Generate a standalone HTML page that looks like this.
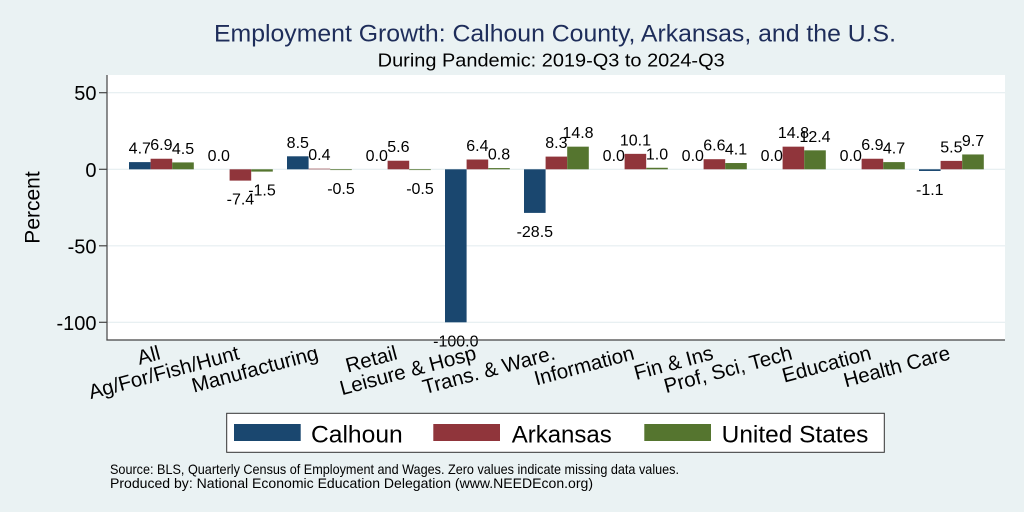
<!DOCTYPE html>
<html>
<head>
<meta charset="utf-8">
<style>
  html, body { margin: 0; padding: 0; background: #eaf2f3; }
  svg { display: block; }
  text { font-family: "Liberation Sans", Arial, sans-serif; }
</style>
</head>
<body>
<svg width="1024" height="512" viewBox="0 0 1024 512" xmlns="http://www.w3.org/2000/svg">
  <rect x="0" y="0" width="1024" height="512" fill="#eaf2f3"/>
  <!-- plot region -->
  <rect x="107" y="75" width="898" height="265" fill="#ffffff"/>
  <!-- gridlines -->
  <g stroke="#e5eef0" stroke-width="1.2">
    <line x1="107" y1="92.7" x2="1005" y2="92.7"/>
    <line x1="107" y1="169.3" x2="1005" y2="169.3"/>
    <line x1="107" y1="245.8" x2="1005" y2="245.8"/>
    <line x1="107" y1="322.3" x2="1005" y2="322.3"/>
  </g>

  <!-- bars -->
  <g>
    <!-- All -->
    <rect x="129" y="162.11" width="21.6" height="7.19" fill="#1a476f"/>
    <rect x="150.6" y="158.74" width="21.6" height="10.56" fill="#90353b"/>
    <rect x="172.2" y="162.41" width="21.6" height="6.89" fill="#55752f"/>
    <!-- Ag -->
    <rect x="229.6" y="169.3" width="21.6" height="11.32" fill="#90353b"/>
    <rect x="251.2" y="169.3" width="21.6" height="2.3" fill="#55752f"/>
    <!-- Manufacturing -->
    <rect x="287" y="156.3" width="21.6" height="13.0" fill="#1a476f"/>
    <rect x="308.6" y="168.69" width="21.6" height="0.61" fill="#90353b"/>
    <rect x="330.2" y="169.3" width="21.6" height="0.77" fill="#55752f"/>
    <!-- Retail -->
    <rect x="387.6" y="160.73" width="21.6" height="8.57" fill="#90353b"/>
    <rect x="409.2" y="169.3" width="21.6" height="0.77" fill="#55752f"/>
    <!-- Leisure -->
    <rect x="445" y="169.3" width="21.6" height="153" fill="#1a476f"/>
    <rect x="466.6" y="159.51" width="21.6" height="9.79" fill="#90353b"/>
    <rect x="488.2" y="168.08" width="21.6" height="1.22" fill="#55752f"/>
    <!-- Trans -->
    <rect x="524" y="169.3" width="21.6" height="43.6" fill="#1a476f"/>
    <rect x="545.6" y="156.6" width="21.6" height="12.7" fill="#90353b"/>
    <rect x="567.2" y="146.66" width="21.6" height="22.64" fill="#55752f"/>
    <!-- Information -->
    <rect x="624.6" y="153.85" width="21.6" height="15.45" fill="#90353b"/>
    <rect x="646.2" y="167.77" width="21.6" height="1.53" fill="#55752f"/>
    <!-- Fin -->
    <rect x="703.6" y="159.2" width="21.6" height="10.1" fill="#90353b"/>
    <rect x="725.2" y="163.03" width="21.6" height="6.27" fill="#55752f"/>
    <!-- Prof -->
    <rect x="782.6" y="146.66" width="21.6" height="22.64" fill="#90353b"/>
    <rect x="804.2" y="150.33" width="21.6" height="18.97" fill="#55752f"/>
    <!-- Education -->
    <rect x="861.6" y="158.74" width="21.6" height="10.56" fill="#90353b"/>
    <rect x="883.2" y="162.11" width="21.6" height="7.19" fill="#55752f"/>
    <!-- Health -->
    <rect x="919" y="169.3" width="21.6" height="1.68" fill="#1a476f"/>
    <rect x="940.6" y="160.88" width="21.6" height="8.42" fill="#90353b"/>
    <rect x="962.2" y="154.46" width="21.6" height="14.84" fill="#55752f"/>
  </g>

  <!-- bar labels -->
  <g font-size="16" fill="#000" text-anchor="middle">
    <text x="139.8" y="153.6">4.7</text>
    <text x="161.4" y="150.2">6.9</text>
    <text x="183" y="153.9">4.5</text>

    <text x="218.8" y="160.8">0.0</text>
    <text x="240.4" y="204.6">-7.4</text>
    <text x="262" y="195.6">-1.5</text>

    <text x="297.8" y="147.8">8.5</text>
    <text x="319.4" y="160.2">0.4</text>
    <text x="341" y="194.1">-0.5</text>

    <text x="376.8" y="160.8">0.0</text>
    <text x="398.4" y="152.2">5.6</text>
    <text x="420" y="194.1">-0.5</text>

    <text x="455.8" y="346.3">-100.0</text>
    <text x="477.4" y="151.0">6.4</text>
    <text x="499" y="159.6">0.8</text>

    <text x="534.8" y="236.9">-28.5</text>
    <text x="556.4" y="148.1">8.3</text>
    <text x="578" y="138.2">14.8</text>

    <text x="613.8" y="160.8">0.0</text>
    <text x="635.4" y="145.3">10.1</text>
    <text x="657" y="159.3">1.0</text>

    <text x="692.8" y="160.8">0.0</text>
    <text x="714.4" y="150.7">6.6</text>
    <text x="736" y="154.5">4.1</text>

    <text x="771.8" y="160.8">0.0</text>
    <text x="793.4" y="138.2">14.8</text>
    <text x="815" y="141.8">12.4</text>

    <text x="850.8" y="160.8">0.0</text>
    <text x="872.4" y="150.2">6.9</text>
    <text x="894" y="153.6">4.7</text>

    <text x="929.8" y="195.0">-1.1</text>
    <text x="951.4" y="152.4">5.5</text>
    <text x="973" y="146.0">9.7</text>
  </g>

  <!-- axes -->
  <g stroke="#444" stroke-width="1.2" fill="none">
    <line x1="107" y1="75" x2="107" y2="340.5"/>
    <line x1="106.4" y1="340" x2="1005" y2="340"/>
    <line x1="99" y1="92.7" x2="107" y2="92.7"/>
    <line x1="99" y1="169.3" x2="107" y2="169.3"/>
    <line x1="99" y1="245.8" x2="107" y2="245.8"/>
    <line x1="99" y1="322.3" x2="107" y2="322.3"/>
  </g>

  <!-- y tick labels -->
  <g font-size="20" fill="#000" text-anchor="end">
    <text x="96.5" y="100.2">50</text>
    <text x="96.5" y="176.8">0</text>
    <text x="96.5" y="253.3">-50</text>
    <text x="96.5" y="329.8">-100</text>
  </g>

  <!-- y axis title -->
  <text x="39.5" y="207.5" font-size="21" text-anchor="middle" transform="rotate(-90 39.5 207.5)">Percent</text>

  <!-- x labels -->
  <g font-size="20.5" fill="#000" text-anchor="end">
    <text x="161.4" y="359" transform="rotate(-15 161.4 359)">All</text>
    <text x="240.4" y="359" transform="rotate(-15 240.4 359)">Ag/For/Fish/Hunt</text>
    <text x="319.4" y="359" transform="rotate(-15 319.4 359)">Manufacturing</text>
    <text x="398.4" y="359" transform="rotate(-15 398.4 359)">Retail</text>
    <text x="477.4" y="359" transform="rotate(-15 477.4 359)">Leisure &amp; Hosp</text>
    <text x="556.4" y="359" transform="rotate(-15 556.4 359)">Trans. &amp; Ware.</text>
    <text x="635.4" y="359" transform="rotate(-15 635.4 359)">Information</text>
    <text x="714.4" y="359" transform="rotate(-15 714.4 359)">Fin &amp; Ins</text>
    <text x="793.4" y="359" transform="rotate(-15 793.4 359)">Prof, Sci, Tech</text>
    <text x="872.4" y="359" transform="rotate(-15 872.4 359)">Education</text>
    <text x="951.4" y="359" transform="rotate(-15 951.4 359)">Health Care</text>
  </g>

  <!-- titles -->
  <text x="214" y="41.7" font-size="24" fill="#1e2d5a" textLength="682" lengthAdjust="spacingAndGlyphs">Employment Growth: Calhoun County, Arkansas, and the U.S.</text>
  <text x="377.7" y="66.5" font-size="18" fill="#000" textLength="347" lengthAdjust="spacingAndGlyphs">During Pandemic: 2019-Q3 to 2024-Q3</text>

  <!-- legend -->
  <rect x="226.7" y="413.3" width="657.6" height="39" fill="#ffffff" stroke="#333" stroke-width="1"/>
  <rect x="234" y="424" width="66.7" height="17" fill="#1a476f"/>
  <text x="311" y="442.7" font-size="24" fill="#000" textLength="91.7" lengthAdjust="spacingAndGlyphs">Calhoun</text>
  <rect x="433.3" y="424" width="66.7" height="17" fill="#90353b"/>
  <text x="511.7" y="442.7" font-size="24" fill="#000">Arkansas</text>
  <rect x="644.3" y="424" width="66.7" height="17" fill="#55752f"/>
  <text x="721.7" y="442.7" font-size="24" fill="#000" textLength="146.7" lengthAdjust="spacingAndGlyphs">United States</text>

  <!-- footer -->
  <text x="110" y="474" font-size="14" fill="#000" textLength="569" lengthAdjust="spacingAndGlyphs">Source: BLS, Quarterly Census of Employment and Wages. Zero values indicate missing data values.</text>
  <text x="110" y="487.8" font-size="14" fill="#000" textLength="483" lengthAdjust="spacingAndGlyphs">Produced by: National Economic Education Delegation (www.NEEDEcon.org)</text>
</svg>
</body>
</html>
